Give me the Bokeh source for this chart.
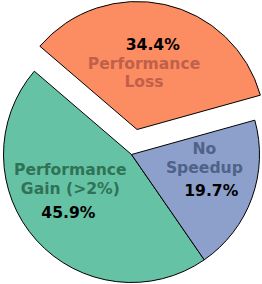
import math
from bokeh.plotting import figure
from bokeh.models import Range1d, ColumnDataSource
from bokeh.core.properties import value
from bokeh.embed import file_html
from bokeh.resources import INLINE

# ---- data ----
labels = ["Performance\nGain (>2%)", "No\nSpeedup", "Performance\nLoss"]
shares = [45.9, 19.7, 34.4]
pct_text = ["45.9%", "19.7%", "34.4%"]
explode = [0.0, 0.0, 0.2]
slice_colors = ["#66c2a5", "#8da0cb", "#fc8d62"]
label_colors = ["#2f7356", "#4f6288", "#c0604a"]

# ---- layout / style ----
W, H = 262, 284
cx, cy = 131.0, 284.0 - 154.0   # pie centre (y up)
R = 128.0
start_deg = 139.4
# text placement (angle in degrees, distance as fraction of radius), per slice
pct_polar = [(222.6, 0.67), (-24.5, 0.685), (79.5, 0.675)]
label_polar = [(202.0, 0.515), (-2.8, 0.57), (83.0, 0.445)]

p = figure(width=W, height=H, output_backend="svg", toolbar_location=None,
           x_range=Range1d(0, W), y_range=Range1d(0, H),
           min_border=0, outline_line_color=None)
p.axis.visible = False
p.grid.visible = False
p.background_fill_color = "white"

total = sum(shares)
a = math.radians(start_deg)
xs, ys, sa, ea = [], [], [], []
pcx, pcy, lx, ly = [], [], [], []
for i, s in enumerate(shares):
    span = 2 * math.pi * s / total
    mid = a + span / 2
    ox = cx + explode[i] * R * math.cos(mid)
    oy = cy + explode[i] * R * math.sin(mid)
    xs.append(ox); ys.append(oy); sa.append(a); ea.append(a + span)
    pa, pd = pct_polar[i]
    pcx.append(ox + pd * R * math.cos(math.radians(pa)))
    pcy.append(oy + pd * R * math.sin(math.radians(pa)))
    la, ld = label_polar[i]
    lx.append(ox + ld * R * math.cos(math.radians(la)))
    ly.append(oy + ld * R * math.sin(math.radians(la)))
    a += span

src = ColumnDataSource(dict(x=xs, y=ys, sa=sa, ea=ea, color=slice_colors,
                            px=pcx, py=pcy, pt=pct_text,
                            lx=lx, ly=ly, lt=labels, lc=label_colors))

p.wedge(x="x", y="y", radius=R, start_angle="sa", end_angle="ea",
        fill_color="color", line_color="black", line_width=1, source=src)

p.text(x="lx", y="ly", text="lt", text_color="lc", source=src,
       text_font=value("DejaVu Sans"), text_font_style="bold",
       text_font_size="15.6px", text_align="center", text_baseline="middle",
       text_line_height=1.05)
p.text(x="px", y="py", text="pt", text_color="black", source=src,
       text_font=value("DejaVu Sans"), text_font_style="bold",
       text_font_size="15.6px", text_align="center", text_baseline="middle")

open("out.html", "w").write(file_html(p, INLINE))
